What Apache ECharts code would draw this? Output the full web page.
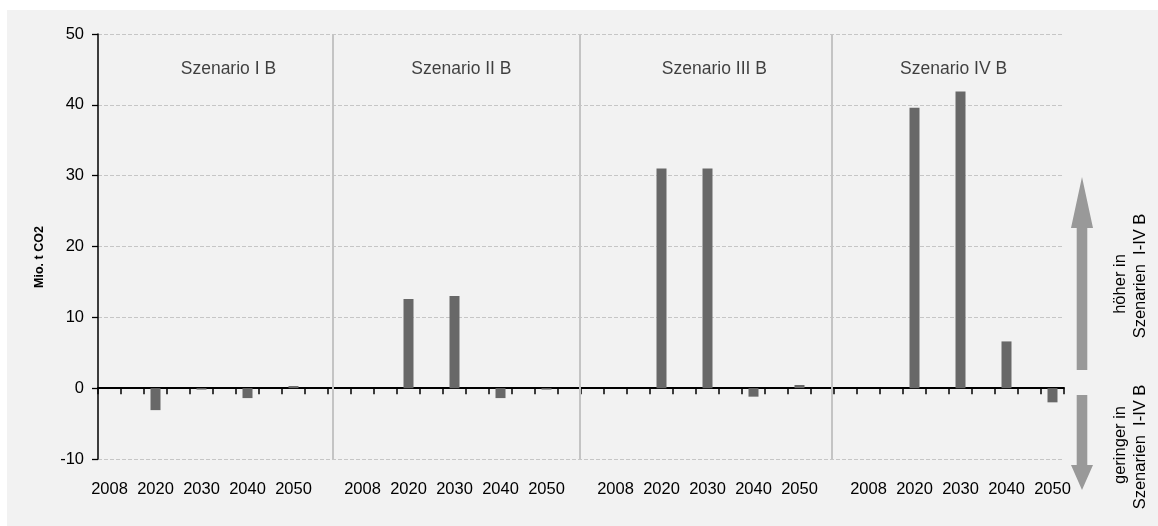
<!DOCTYPE html>
<html><head><meta charset="utf-8">
<script src="https://cdn.jsdelivr.net/npm/echarts@6/dist/echarts.min.js"></script>
<style>
html,body{margin:0;padding:0;background:#fff;}
#bg{position:absolute;left:7px;top:10px;width:1151px;height:516px;background:#f2f2f2;}
#chart{position:absolute;left:0;top:0;width:1158px;height:526px;}
</style></head><body>
<div id="bg"></div><div id="chart"></div>
<script>
// ---- data ----
const scenarios = ['Szenario I B', 'Szenario II B', 'Szenario III B', 'Szenario IV B'];
const years = ['2008', '2020', '2030', '2040', '2050'];
const valuesI   = [0, -3.1, -0.2, -1.4, 0.3];
const valuesII  = [0, 12.6, 13.0, -1.4, -0.2];
const valuesIII = [0, 31.0, 31.0, -1.2, 0.45];
const valuesIV  = [0, 39.6, 41.9, 6.6, -2.0];
const yMin = -10, yMax = 50, yStep = 10;
const yAxisName = 'Mio. t CO2';
const upperNote = ['höher in', 'Szenarien  I-IV B'];
const lowerNote = ['geringer in', 'Szenarien  I-IV B'];

// ---- build category axis (with empty gap slots between years / panels) ----
const allValues = [valuesI, valuesII, valuesIII, valuesIV];
const categories = [], barData = [];
allValues.forEach((vals, s) => {
  years.forEach((y, i) => {
    categories.push(y); barData.push(vals[i]);
    const last = s === allValues.length - 1 && i === years.length - 1;
    if (!last) { categories.push(''); barData.push(null); }
  });
  if (s < allValues.length - 1) { categories.push(''); barData.push(null); }
});

const dividerPos = [10.2, 20.96, 31.91];
const titlePos = [5.67, 15.8, 26.8, 37.2];
const FONT = 'Liberation Sans, Arial, sans-serif';

const chart = echarts.init(document.getElementById('chart'), null, {renderer: 'canvas'});
const option = {
  backgroundColor: 'transparent',
  animation: false,
  textStyle: {fontFamily: FONT},
  grid: {left: 98, right: 94, top: 34, bottom: 67},
  xAxis: [
    {
      type: 'category', data: categories, position: 'bottom',
      axisLine: {show: false, onZero: false}, axisTick: {show: false},
      axisLabel: {interval: 0, margin: 22, fontSize: 16.5, color: '#000', fontFamily: FONT},
      splitLine: {show: false}
    },
    {
      type: 'category', data: categories, position: 'top',
      axisLine: {show: true, onZero: true, lineStyle: {color: '#000', width: 2}},
      axisTick: {show: true, inside: true, length: 6, interval: 0, lineStyle: {color: '#000', width: 1.5}},
      axisLabel: {show: false}, splitLine: {show: false}
    },
    {type: 'value', min: 0, max: categories.length, show: false}
  ],
  yAxis: {
    type: 'value', min: yMin, max: yMax, interval: yStep,
    axisLine: {show: true, onZero: false, lineStyle: {color: '#000', width: 1.5}},
    axisTick: {show: true, length: 6, lineStyle: {color: '#000', width: 1.3}},
    axisLabel: {fontSize: 16.5, color: '#000', margin: 14, fontFamily: FONT},
    splitLine: {show: true, lineStyle: {color: '#c6c6c6', type: [4, 2], width: 1}}
  },
  series: [
    {
      type: 'bar', xAxisIndex: 0, yAxisIndex: 0, data: barData,
      barWidth: 10, itemStyle: {color: '#686868'}, silent: true, z: 3
    },
    {
      type: 'scatter', xAxisIndex: 2, yAxisIndex: 0, silent: true,
      symbolSize: 1, itemStyle: {color: 'transparent'},
      data: scenarios.map((n, i) => [titlePos[i], 45, n]),
      label: {show: true, position: 'inside', formatter: p => p.data[2],
              fontSize: 17.5, color: '#111', fontFamily: FONT},
      markLine: {
        silent: true, symbol: 'none', label: {show: false},
        lineStyle: {color: '#c4c4c4', width: 2, type: 'solid'},
        data: dividerPos.map(v => ({xAxis: v}))
      },
      z: 1
    }
  ],
  graphic: {
    elements: [
      {type: 'text', x: 40, y: 257, rotation: Math.PI / 2,
       style: {text: yAxisName, font: 'bold 12.5px ' + FONT, fill: '#000', align: 'center', verticalAlign: 'middle'}},
      {type: 'polygon', shape: {points: [[1082, 177], [1093, 228], [1087.3, 228], [1087.3, 370], [1076.7, 370], [1076.7, 228], [1071, 228]]},
       style: {fill: '#999'}},
      {type: 'polygon', shape: {points: [[1076.7, 395], [1087.3, 395], [1087.3, 465], [1093, 465], [1082, 490], [1071, 465], [1076.7, 465]]},
       style: {fill: '#999'}},
      {type: 'text', x: 1120, y: 284, rotation: Math.PI / 2,
       style: {text: upperNote[0], font: '16.5px ' + FONT, fill: '#000', align: 'center', verticalAlign: 'middle'}},
      {type: 'text', x: 1140, y: 276, rotation: Math.PI / 2,
       style: {text: upperNote[1], font: '16.5px ' + FONT, fill: '#000', align: 'center', verticalAlign: 'middle'}},
      {type: 'text', x: 1120, y: 445, rotation: Math.PI / 2,
       style: {text: lowerNote[0], font: '16.5px ' + FONT, fill: '#000', align: 'center', verticalAlign: 'middle'}},
      {type: 'text', x: 1140, y: 447, rotation: Math.PI / 2,
       style: {text: lowerNote[1], font: '16.5px ' + FONT, fill: '#000', align: 'center', verticalAlign: 'middle'}}
    ]
  }
};
chart.setOption(option);
</script>
</body></html>
